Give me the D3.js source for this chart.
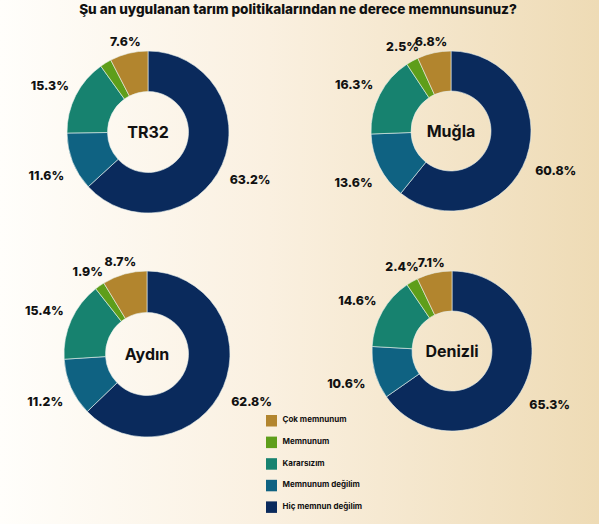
<!DOCTYPE html>
<html><head><meta charset="utf-8">
<script src="https://cdn.jsdelivr.net/npm/d3@7"></script>
<style>html,body{margin:0;padding:0;overflow:hidden;}svg{display:block;}</style>
</head><body>
<script>
// ---- data ----
const title = "Şu an uygulanan tarım politikalarından ne derece memnunsunuz?";
const categories = ["Çok memnunum", "Memnunum", "Kararsızım", "Memnunum değilim", "Hiç memnun değilim"];
const regions = ["TR32", "Muğla", "Aydın", "Denizli"];
const valuesTR32 = [7.6, 2.3, 15.3, 11.6, 63.2];
const valuesMugla = [6.8, 2.5, 16.3, 13.6, 60.8];
const valuesAydin = [8.7, 1.9, 15.4, 11.2, 62.8];
const valuesDenizli = [7.1, 2.4, 14.6, 10.6, 65.3];
const regionValues = [valuesTR32, valuesMugla, valuesAydin, valuesDenizli];
const unlabeled = [["TR32", "Memnunum"]];

// ---- style / layout ----
const W = 599, H = 524;
const colors = ["#b2852e", "#5e9e1a", "#17826f", "#0f6282", "#0a2a5c"];
const layout = [
  {cx: 148, cy: 132, r: 81},
  {cx: 451, cy: 131, r: 80},
  {cx: 147, cy: 354, r: 83},
  {cx: 452, cy: 351, r: 80}
];
const FONT = "Inter, 'Open Sans', 'DejaVu Sans', sans-serif";

const svg = d3.select("body").append("svg").attr("width", W).attr("height", H);
const defs = svg.append("defs");
const grad = defs.append("linearGradient").attr("id", "bg").attr("x1", "0").attr("x2", "1").attr("y1", "0").attr("y2", "0");
grad.append("stop").attr("offset", "0%").attr("stop-color", "#fffefb");
grad.append("stop").attr("offset", "45%").attr("stop-color", "#faf0e0");
grad.append("stop").attr("offset", "100%").attr("stop-color", "#eedbb5");
svg.append("rect").attr("width", W).attr("height", H).attr("fill", "url(#bg)");

// title
const t = svg.append("text").attr("x", 298).attr("y", 14).attr("text-anchor", "middle")
  .attr("font-family", FONT).attr("font-weight", 800).attr("font-size", 13).attr("fill", "#111")
  .text(title);
const tw = t.node().getComputedTextLength();
t.attr("font-size", 13 * 438 / tw);

const color = d3.scaleOrdinal().domain(categories).range(colors);
const order = [4, 3, 2, 1, 0]; // clockwise from top

regions.forEach((reg, ri) => {
  const L = layout[ri];
  const vals = regionValues[ri];
  const p = d3.pie().sort(null).value(i => vals[i])(order);
  const arc = d3.arc().innerRadius(L.r * 0.5).outerRadius(L.r);
  const g = svg.append("g").attr("transform", `translate(${L.cx},${L.cy})`);
  g.selectAll("path").data(p).join("path")
    .attr("d", arc)
    .attr("fill", d => color(categories[d.data]))
    .attr("stroke", "#e9f1ee").attr("stroke-width", 0.6);
  g.append("text").attr("text-anchor", "middle").attr("dy", "0.36em")
    .attr("font-family", FONT).attr("font-weight", 700).attr("font-size", 16).attr("fill", "#111")
    .text(reg);
  p.forEach(d => {
    const cat = categories[d.data];
    if (unlabeled.some(u => u[0] === reg && u[1] === cat)) return;
    const a = (d.startAngle + d.endAngle) / 2;
    const s = Math.sin(a), c = Math.cos(a);
    const lbl = g.append("text").attr("text-anchor", "middle").attr("dy", "0.36em")
      .attr("font-family", FONT).attr("font-weight", 800).attr("font-size", 12.3).attr("fill", "#111")
      .text(d3.format(".1f")(vals[d.data]) + "%");
    const w = lbl.node().getComputedTextLength(), h = 12;
    const k = 4 + 6 * Math.abs(s);
    const dist = L.r + k + Math.abs(s) * w / 2 + Math.abs(c) * h / 2;
    lbl.attr("x", s * dist).attr("y", -c * dist + 3);
  });
});

// legend
const lg = svg.append("g").attr("transform", "translate(266,415)");
categories.forEach((cat, i) => {
  const row = lg.append("g").attr("transform", `translate(0,${i * 21.6})`);
  row.append("rect").attr("width", 11).attr("height", 11.5).attr("fill", color(cat));
  row.append("text").attr("x", 16.5).attr("y", 5).attr("dy", "0.3em")
    .attr("font-family", FONT).attr("font-weight", 700).attr("font-size", 8).attr("fill", "#111")
    .text(cat);
});
</script>
</body></html>
